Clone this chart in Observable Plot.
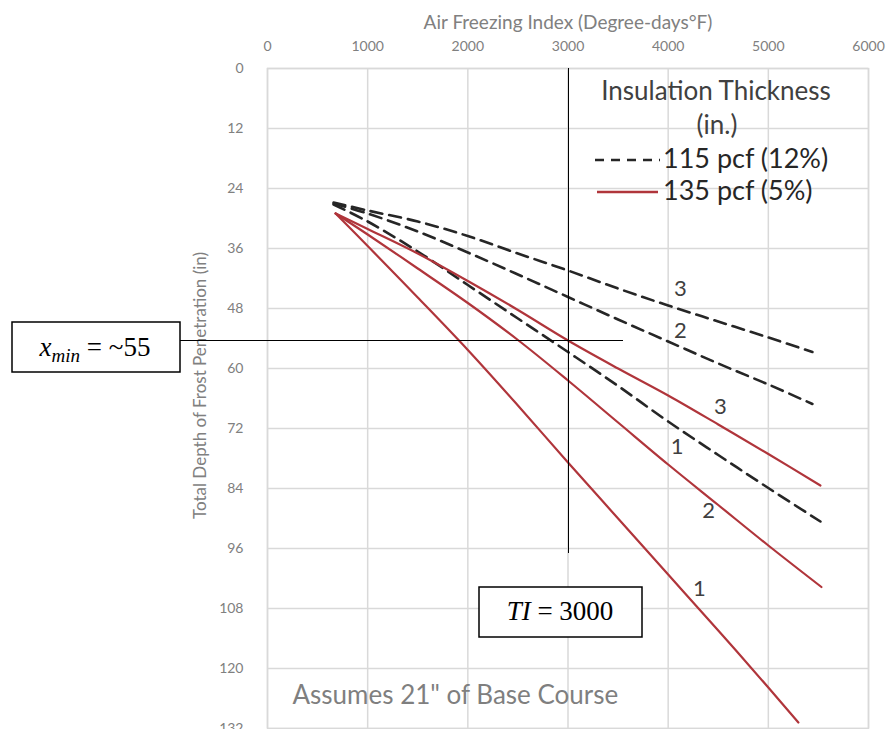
<!DOCTYPE html>
<html>
<head>
<meta charset="utf-8">
<script src="https://cdn.jsdelivr.net/npm/d3@7"></script>
<script src="https://cdn.jsdelivr.net/npm/@observablehq/plot@0.6"></script>
<style>
  html, body { margin: 0; padding: 0; background: #fff; }
  #chart { width: 888px; height: 729px; overflow: hidden; }
</style>
</head>
<body>
<div id="chart"></div>
<script>
// ---- axis ticks ----
const xTicks = [0, 1000, 2000, 3000, 4000, 5000, 6000];
const yTicks = [0, 12, 24, 36, 48, 60, 72, 84, 96, 108, 120, 132];
const xTitle = "Air Freezing Index (Degree-days°F)";
const yTitle = "Total Depth of Frost Penetration (in)";
const note = "Assumes 21\" of Base Course";
const legendTitle = ["Insulation Thickness", "(in.)"];
const densities = ["115 pcf (12%)", "135 pcf (5%)"];

// ---- 115 pcf (12%) series (dashed) ----
const fi115_1 = [660, 1000, 1500, 2000, 2500, 3000, 3500, 4000, 4500, 5000, 5520];
const depth115_1 = [27.2, 30.6, 36.6, 43.3, 50.0, 56.7, 63.5, 70.6, 77.3, 83.9, 90.6];
const fi115_2 = [660, 1000, 1500, 2000, 2500, 3000, 3500, 4000, 4500, 5000, 5440];
const depth115_2 = [27.0, 29.0, 32.6, 36.8, 41.2, 45.7, 50.2, 54.6, 59.0, 63.2, 67.1];
const fi115_3 = [660, 1000, 1500, 2000, 2500, 3000, 3500, 4000, 4500, 5000, 5440];
const depth115_3 = [26.8, 28.4, 30.6, 33.5, 37.0, 40.4, 44.0, 47.4, 50.6, 53.8, 56.7];

// ---- 135 pcf (5%) series (solid red) ----
const fi135_1 = [680, 1000, 1500, 2000, 2500, 3000, 3500, 4000, 4500, 5000, 5300];
const depth135_1 = [29.0, 35.5, 45.8, 56.3, 67.4, 78.8, 90.0, 101.2, 112.4, 123.8, 130.8];
const fi135_2 = [680, 1000, 1500, 2000, 2500, 3000, 3500, 4000, 4500, 5000, 5530];
const depth135_2 = [29.0, 33.2, 40.0, 46.9, 54.3, 62.4, 70.8, 79.2, 87.3, 95.4, 103.7];
const fi135_3 = [680, 1000, 1500, 2000, 2500, 3000, 3500, 4000, 4500, 5000, 5520];
const depth135_3 = [29.0, 32.1, 37.0, 42.5, 48.3, 54.4, 60.0, 65.4, 71.2, 77.1, 83.4];

// ---- curve labels (thickness numbers) ----
const labelText = ["3", "2", "1", "3", "2", "1"];
const labelFI = [4122, 4122, 4089, 4521, 4404, 4311];
const labelDepth = [44.1, 52.4, 75.7, 67.7, 88.4, 104.1];

// ---- annotation values ----
const tiValue = [3000];
const xMinValue = [54.4];

function rows(fi, depth, density, thickness) {
  return fi.map((x, i) => ({ fi: x, depth: depth[i], density, thickness, key: density + thickness }));
}
const dashedRows = [
  ...rows(fi115_1, depth115_1, densities[0], 1),
  ...rows(fi115_2, depth115_2, densities[0], 2),
  ...rows(fi115_3, depth115_3, densities[0], 3)
];
const solidRows = [
  ...rows(fi135_1, depth135_1, densities[1], 1),
  ...rows(fi135_2, depth135_2, densities[1], 2),
  ...rows(fi135_3, depth135_3, densities[1], 3)
];
const labelRows = labelText.map((t, i) => ({ t, fi: labelFI[i], depth: labelDepth[i] }));

const RED = "#b0353b";
const DARK = "#262626";
const GRID = "#d9d9d9";
const GRAY = "#808080";

const plot = Plot.plot({
  width: 888,
  height: 729,
  marginLeft: 267,
  marginRight: 20,
  marginTop: 68,
  marginBottom: 1,
  style: { fontFamily: "Lato, sans-serif", background: "#fff", overflow: "visible" },
  x: { domain: [0, 6000] },
  y: { domain: [0, 132], reverse: true },
  marks: [
    Plot.gridX(xTicks, { stroke: GRID, strokeOpacity: 1, strokeWidth: 1.5 }),
    Plot.gridY(yTicks, { stroke: GRID, strokeOpacity: 1, strokeWidth: 1.5 }),
    Plot.frame({ stroke: GRID, strokeWidth: 1.5 }),
    Plot.axisX(xTicks, { anchor: "top", tickSize: 0, tickPadding: 18, tickFormat: d => String(d), fill: GRAY, fontSize: 14, label: null }),
    Plot.axisY(yTicks, { anchor: "left", tickSize: 0, tickPadding: 24, tickFormat: d => String(d), fill: GRAY, fontSize: 14, label: null }),
    Plot.text([xTitle], { frameAnchor: "top", dy: -53, fontSize: 19, fill: GRAY }),
    Plot.text([yTitle], { frameAnchor: "left", textAnchor: "middle", rotate: -90, dx: -67, dy: -13, fontSize: 17, fill: GRAY }),
    Plot.text([note], { frameAnchor: "bottom-left", textAnchor: "start", lineAnchor: "middle", dx: 25, dy: -33, fontSize: 26, fill: "#7f7f7f" }),
    Plot.line(dashedRows, { x: "fi", y: "depth", z: "key", stroke: DARK, strokeWidth: 2.6, strokeDasharray: "12,7", curve: "catmull-rom" }),
    Plot.line(solidRows, { x: "fi", y: "depth", z: "key", stroke: RED, strokeWidth: 2.2, curve: "catmull-rom" }),
    Plot.text(labelRows, { x: "fi", y: "depth", text: "t", fontSize: 22, fill: "#404040" }),
    Plot.ruleX(tiValue, { y1: 0, y2: 97, stroke: "#000", strokeWidth: 1, shapeRendering: "crispEdges" }),
    Plot.ruleY(xMinValue, { x1: -870, x2: 3555, stroke: "#000", strokeWidth: 1, shapeRendering: "crispEdges", clip: false })
  ]
});

document.getElementById("chart").appendChild(plot);

// ---- legend & annotation boxes (layout overlay) ----
const svg = d3.select(plot);
const g = svg.append("g").attr("font-family", "Lato, sans-serif");
g.append("text").attr("x", 716).attr("y", 100).attr("text-anchor", "middle")
  .attr("font-size", 26).attr("fill", "#404040").text(legendTitle[0]);
g.append("text").attr("x", 717).attr("y", 134).attr("text-anchor", "middle")
  .attr("font-size", 26).attr("fill", "#404040").text(legendTitle[1]);
g.append("line").attr("x1", 595).attr("x2", 660).attr("y1", 160).attr("y2", 160)
  .attr("stroke", DARK).attr("stroke-width", 2.6).attr("stroke-dasharray", "9,7");
g.append("text").attr("x", 663).attr("y", 168).attr("text-anchor", "start")
  .attr("font-size", 27).attr("fill", "#262626").text(densities[0]);
g.append("line").attr("x1", 597).attr("x2", 658).attr("y1", 192).attr("y2", 192)
  .attr("stroke", RED).attr("stroke-width", 2.6);
g.append("text").attr("x", 663).attr("y", 200).attr("text-anchor", "start")
  .attr("font-size", 27).attr("fill", "#262626").text(densities[1]);

const b = svg.append("g").attr("font-family", "'Liberation Serif', serif");
b.append("rect").attr("x", 12).attr("y", 322).attr("width", 168).attr("height", 50)
  .attr("fill", "#fff").attr("stroke", "#000").attr("stroke-width", 1.5);
const t1 = b.append("text").attr("x", 95).attr("y", 356).attr("text-anchor", "middle").attr("font-size", 27).attr("fill", "#000");
t1.append("tspan").attr("font-style", "italic").text("x");
t1.append("tspan").attr("font-style", "italic").attr("font-size", 19).attr("dy", 6).text("min");
t1.append("tspan").attr("dy", -6).text(" = ~55");

b.append("rect").attr("x", 479).attr("y", 587).attr("width", 163).attr("height", 50)
  .attr("fill", "#fff").attr("stroke", "#000").attr("stroke-width", 1.5);
const t2 = b.append("text").attr("x", 560).attr("y", 620).attr("text-anchor", "middle").attr("font-size", 27).attr("fill", "#000");
t2.append("tspan").attr("font-style", "italic").text("TI");
t2.append("tspan").text(" = 3000");
</script>
</body>
</html>
